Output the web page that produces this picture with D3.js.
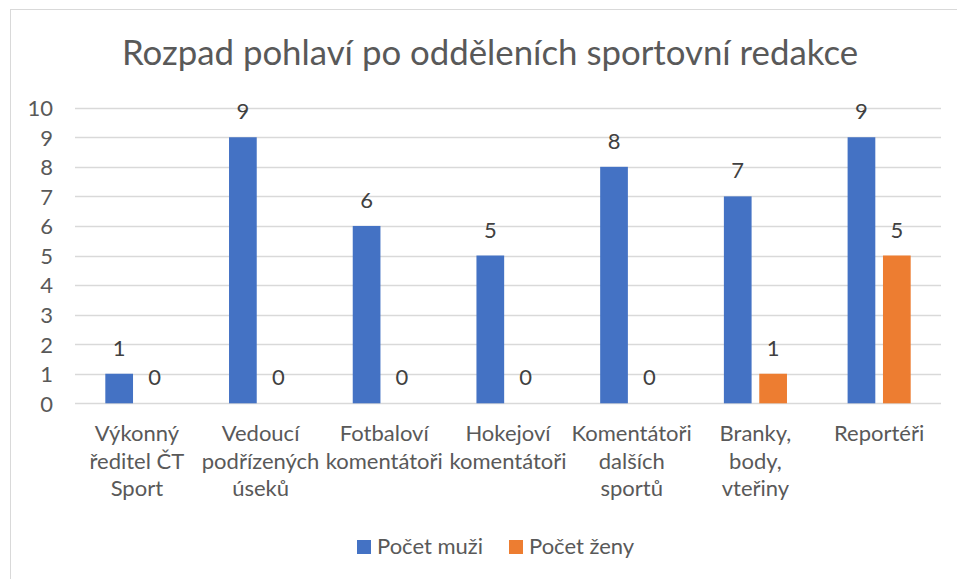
<!DOCTYPE html>
<html><head><meta charset="utf-8">
<script src="https://cdn.jsdelivr.net/npm/d3@7"></script>
<style>
html,body{margin:0;padding:0;background:#fff;}
svg{display:block;}
text{font-family:Lato,"Open Sans",sans-serif;fill:#595959;}
</style></head>
<body>
<svg id="chart" width="957" height="579"></svg>
<script>
const title = "Rozpad pohlaví po odděleních sportovní redakce";
const categories = ["Výkonný ředitel ČT Sport","Vedoucí podřízených úseků","Fotbaloví komentátoři","Hokejoví komentátoři","Komentátoři dalších sportů","Branky, body, vteřiny","Reportéři"];
const categoryLines = [["Výkonný","ředitel ČT","Sport"],["Vedoucí","podřízených","úseků"],["Fotbaloví","komentátoři"],["Hokejoví","komentátoři"],["Komentátoři","dalších","sportů"],["Branky,","body,","vteřiny"],["Reportéři"]];
const seriesNames = ["Počet muži","Počet ženy"];
const muzi = [1,9,6,5,8,7,9];
const zeny = [0,0,0,0,0,1,5];
const yTicks = [0,1,2,3,4,5,6,7,8,9,10];
const colors = ["#4472C4","#ED7D31"];

const svg = d3.select("#chart");
const plot = {left:75, right:941, top:107.7, bottom:403.3};
const fs = "22px";

// chart border
svg.append("rect").attr("x",10.5).attr("y",9.5).attr("width",1000).attr("height",1000)
  .attr("fill","none").attr("stroke","#d9d9d9").attr("stroke-width",1);

svg.append("text").attr("x",490).attr("y",65).attr("text-anchor","middle")
  .style("font-size","34.8px").text(title);

const x0 = d3.scaleBand().domain(d3.range(categories.length)).range([plot.left,plot.right]).paddingInner(0).paddingOuter(0);
const barW = x0.bandwidth()*0.224, gap = x0.bandwidth()*0.062;
const y = d3.scaleLinear().domain([0,10]).range([plot.bottom,plot.top]);

// gridlines
svg.append("g").selectAll("line").data(yTicks).join("line")
  .attr("x1",plot.left).attr("x2",plot.right)
  .attr("y1",d=>Math.round(y(d))+0.5).attr("y2",d=>Math.round(y(d))+0.5)
  .attr("stroke","#d9d9d9").attr("stroke-width",1.3);

// y axis labels
const yAxis = d3.axisLeft(y).tickValues(yTicks).tickSize(0).tickPadding(0);
const gy = svg.append("g").attr("transform",`translate(53,0)`).call(yAxis);
gy.select(".domain").remove();
gy.selectAll("text").style("font-size",fs).style("fill","#595959").attr("dy","0.36em")
  .style("font-family","Lato");

const series = [muzi, zeny];
series.forEach((vals,si)=>{
  const off = si===0 ? -(gap/2+barW) : gap/2;
  svg.append("g").selectAll("rect").data(vals).join("rect")
    .attr("x",(d,i)=>x0(i)+x0.bandwidth()/2+off)
    .attr("y",d=>y(d)).attr("width",barW).attr("height",d=>y(0)-y(d))
    .attr("fill",colors[si]);
  svg.append("g").selectAll("text").data(vals).join("text")
    .attr("x",(d,i)=>x0(i)+x0.bandwidth()/2+off+barW/2)
    .attr("y",d=>y(d)-18).attr("text-anchor","middle")
    .style("font-size",fs).style("fill","#404040").text(d=>d);
});

// category labels
const gx = svg.append("g");
categoryLines.forEach((lines,i)=>{
  const t = gx.append("text").attr("text-anchor","middle").style("font-size",fs);
  lines.forEach((l,j)=>{
    t.append("tspan").attr("x",x0(i)+x0.bandwidth()/2).attr("y",441+j*27.5).text(l);
  });
});

// legend
const legX = [357,509];
seriesNames.forEach((n,i)=>{
  svg.append("rect").attr("x",legX[i]).attr("y",540).attr("width",14).attr("height",14).attr("fill",colors[i]);
  svg.append("text").attr("x",legX[i]+20).attr("y",554).style("font-size",fs).text(n);
});
</script>
</body></html>
